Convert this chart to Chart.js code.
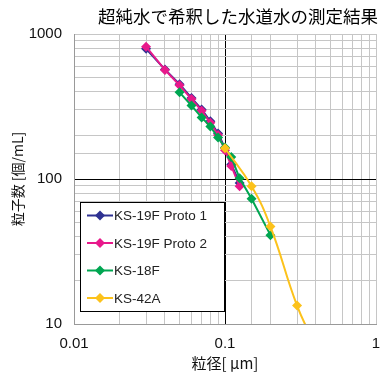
<!DOCTYPE html>
<html>
<head>
<meta charset="utf-8">
<script src="https://cdn.jsdelivr.net/npm/chart.js@4"></script>
<style>
html, body { margin: 0; padding: 0; background: #fff; }
</style>
</head>
<body>
<canvas id="chart" width="385" height="379"></canvas>
<script>
// particle size [um] and counts per mL
const sizesProto = [0.03, 0.04, 0.05, 0.06, 0.07, 0.08, 0.09, 0.1, 0.11, 0.125];
const proto1 = [790, 570, 450, 362, 302, 250, 206, 163, 126, 94];
const proto2 = [817, 565, 443, 356, 296, 244, 201, 158, 123, 89];
const sizes18F = [0.05, 0.06, 0.07, 0.08, 0.09, 0.1, 0.11, 0.125, 0.15, 0.2];
const ks18F = [396, 321, 266, 230, 193, 165, 142, 101, 73, 41];
const sizes42A = [0.1, 0.15, 0.2, 0.3, 0.4];
const ks42A = [163, 89, 47, 13.4, 7];

const seriesNames = ['KS-19F Proto 1', 'KS-19F Proto 2', 'KS-18F', 'KS-42A'];
const seriesColors = ['#2E3192', '#E8198B', '#00A651', '#FCC21B'];

const toPoints = (xs, ys) => xs.map((x, i) => ({ x: x, y: ys[i] }));

const isDecade = v => Math.abs(Math.log10(v) - Math.round(Math.log10(v))) < 1e-6;

function makeSet(i, pts, order, tension) {
    return {
        label: seriesNames[i],
        data: pts,
        borderColor: seriesColors[i],
        backgroundColor: seriesColors[i],
        borderWidth: 2,
        pointStyle: 'rectRot',
        pointRadius: 5,
        pointBorderWidth: 0,
        tension: tension,
        order: order
    };
}

// title and boxed legend drawn on top of the plot
const overlay = {
    id: 'overlay',
    afterDraw(chart) {
        const ctx = chart.ctx;
        ctx.save();
        ctx.fillStyle = '#000';
        ctx.font = '17.5px "Noto Sans CJK JP"';
        ctx.textAlign = 'center';
        ctx.textBaseline = 'middle';
        ctx.fillText('超純水で希釈した水道水の測定結果', 238, 16);

        ctx.fillStyle = '#fff';
        ctx.fillRect(80.5, 202.5, 144, 109);
        ctx.strokeStyle = '#000';
        ctx.lineWidth = 1;
        ctx.strokeRect(80.5, 202.5, 144, 109);

        const rows = [215.5, 243, 270.5, 298];
        ctx.font = '13.5px "Liberation Sans", Arial, sans-serif';
        ctx.textAlign = 'left';
        rows.forEach((y, i) => {
            ctx.strokeStyle = seriesColors[i];
            ctx.lineWidth = 2;
            ctx.beginPath();
            ctx.moveTo(87, y);
            ctx.lineTo(113, y);
            ctx.stroke();
            ctx.fillStyle = seriesColors[i];
            Chart.helpers.drawPoint(ctx, { pointStyle: 'rectRot', radius: 5, borderWidth: 0 }, 100, y);
            ctx.fillStyle = '#222';
            ctx.fillText(seriesNames[i], 114, y + 1);
        });
        ctx.restore();
    }
};

new Chart(document.getElementById('chart').getContext('2d'), {
    type: 'line',
    data: {
        datasets: [
            makeSet(0, toPoints(sizesProto, proto1), 3, 0),
            makeSet(1, toPoints(sizesProto, proto2), 2, 0),
            makeSet(2, toPoints(sizes18F, ks18F), 1, 0),
            makeSet(3, toPoints(sizes42A, ks42A), 0, 0.45)
        ]
    },
    options: {
        responsive: false,
        animation: false,
        layout: { padding: { top: 34, right: 9, left: 0, bottom: 0 } },
        plugins: {
            legend: { display: false },
            tooltip: { enabled: false }
        },
        scales: {
            x: {
                type: 'logarithmic',
                min: 0.01,
                max: 1,
                afterFit: s => { s.height = 55; s.paddingLeft = 0; s.paddingRight = 0; },
                border: { color: '#999' },
                grid: {
                    drawTicks: false,
                    color: c => (c.tick && Math.abs(c.tick.value - 0.1) < 1e-9) ? '#000' : '#c6c6c6'
                },
                ticks: {
                    autoSkip: false,
                    maxRotation: 0,
                    padding: 11,
                    color: '#111',
                    font: { family: '"Liberation Sans", Arial, sans-serif', size: 15 },
                    callback: v => isDecade(v) ? String(Number(v.toPrecision(3))) : ''
                },
                title: {
                    display: true,
                    text: '粒径[ μm]',
                    color: '#111',
                    font: { family: '"Noto Sans CJK JP"', size: 15 },
                    padding: { top: 0, bottom: 7 }
                }
            },
            y: {
                type: 'logarithmic',
                min: 10,
                max: 1000,
                afterFit: s => { s.width = 74; s.paddingTop = 0; s.paddingBottom = 0; },
                border: { color: '#999' },
                grid: {
                    drawTicks: false,
                    color: c => (c.tick && Math.abs(c.tick.value - 100) < 1e-9) ? '#000' : '#c6c6c6'
                },
                ticks: {
                    autoSkip: false,
                    padding: 12,
                    color: '#111',
                    font: { family: '"Liberation Sans", Arial, sans-serif', size: 15 },
                    callback: v => isDecade(v) ? String(Number(v.toPrecision(3))) : ''
                },
                title: {
                    display: true,
                    text: '粒子数 [個/mL]',
                    color: '#111',
                    font: { family: '"Noto Sans CJK JP"', size: 14 },
                    padding: { top: 9, bottom: 0 }
                }
            }
        }
    },
    plugins: [overlay]
});
</script>
</body>
</html>
